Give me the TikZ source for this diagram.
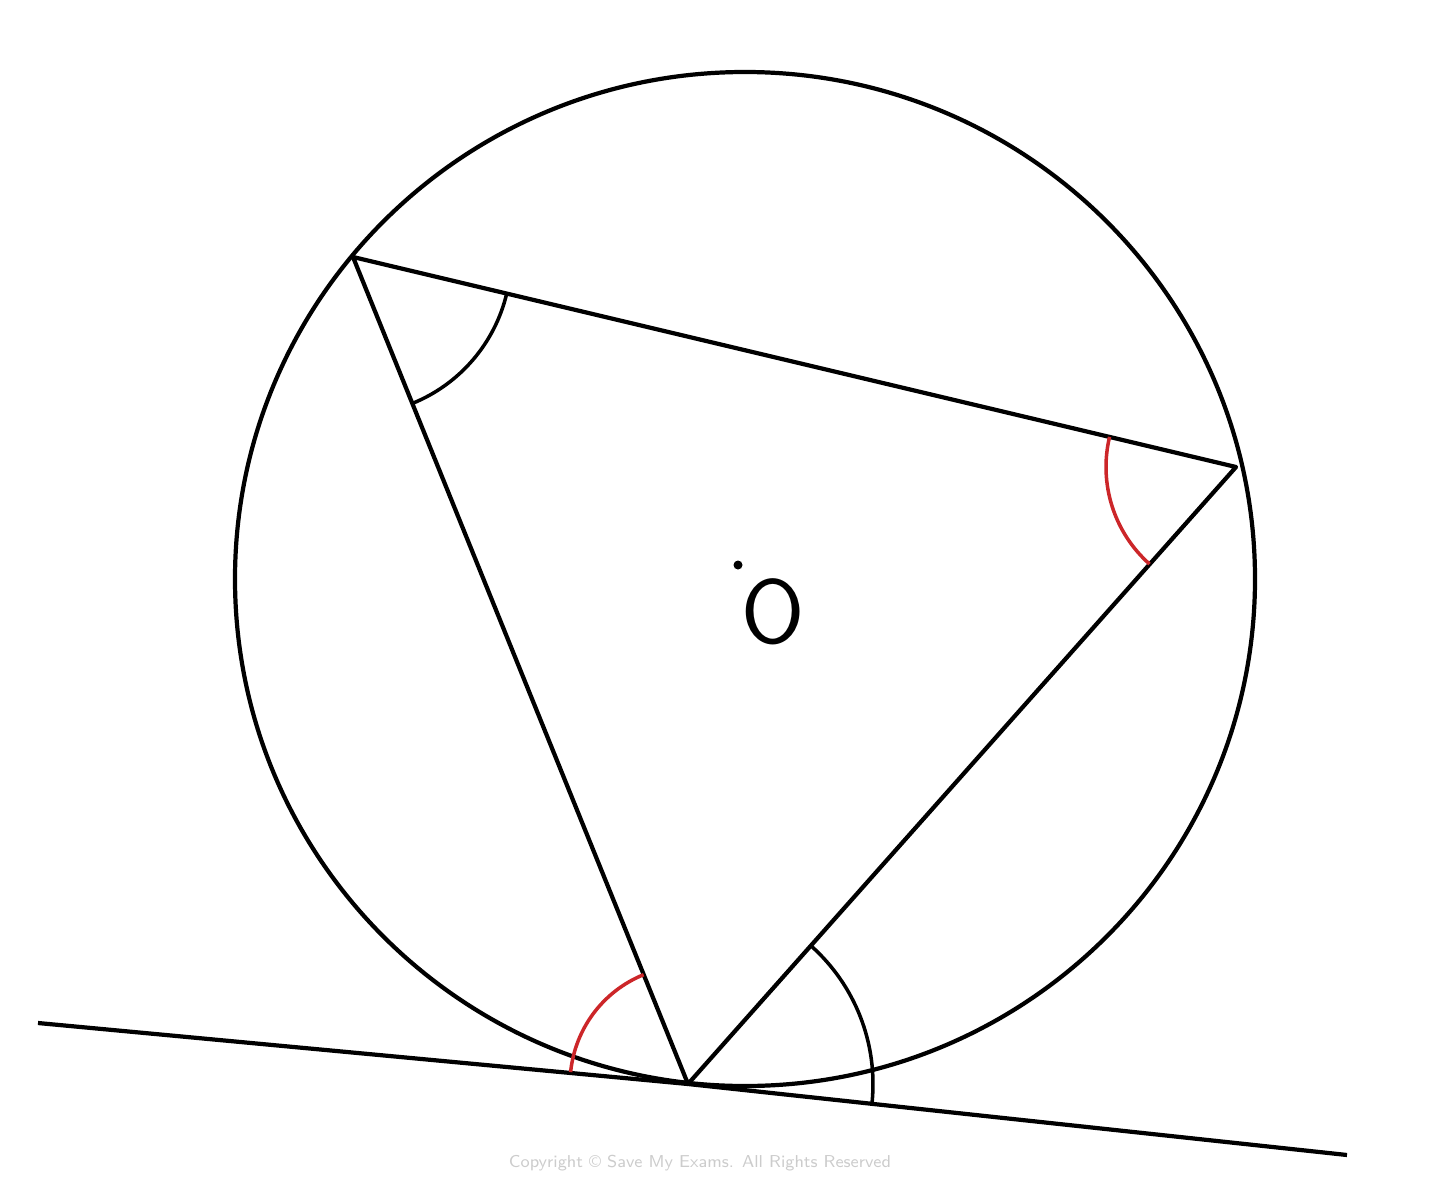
\documentclass[tikz,border=0pt]{standalone}
\usepackage{xcolor}
\definecolor{angred}{rgb}{0.8,0.15,0.16}
\definecolor{cpgray}{rgb}{0.8,0.8,0.8}

\begin{document}
\begin{tikzpicture}[line width=1.2pt, line join=round,
    chord/.style={black},
    angarc/.style={line width=1pt}]
    \useasboundingbox (0,0) rectangle (14.4,-11.92);
    % points on the circle and the tangent
    \coordinate (A) at (3.53,-2.57);
    \coordinate (B) at (12.36,-4.67);
    \coordinate (C) at (6.88,-10.84);
    \coordinate (T1) at (0.38,-10.23);
    \coordinate (T2) at (13.47,-11.55);
    \coordinate (O) at (7.38,-5.65);
    \draw (7.45,-5.79) ellipse [x radius=5.1, y radius=5.07];
    \draw[chord] (A) -- (B) -- (C) -- cycle;
    \draw (T1) -- (C) -- (T2);
    \fill (O) circle (0.045);
    \node[font=\fontsize{26}{30}\selectfont\sffamily] (olabel) at (7.73,-6.12) {O};
	\foreach \v/\s/\e/\r/\c in {A/-67.9/-13.4/1.58/black,B/166.6/228.3/1.30/angred,C/174.2/112.1/1.18/angred,C/48.3/-5.8/1.85/black} {
	    \draw[angarc,color=\c] ([shift=(\s:\r)]\v) arc[start angle=\s, end angle=\e, radius=\r];
	}
    \node[text=cpgray, font=\fontsize{4.9}{6}\selectfont\sffamily] (copy) at (7.0,-11.63) {Copyright \copyright\ Save My Exams. All Rights Reserved};
\end{tikzpicture}
\end{document}
